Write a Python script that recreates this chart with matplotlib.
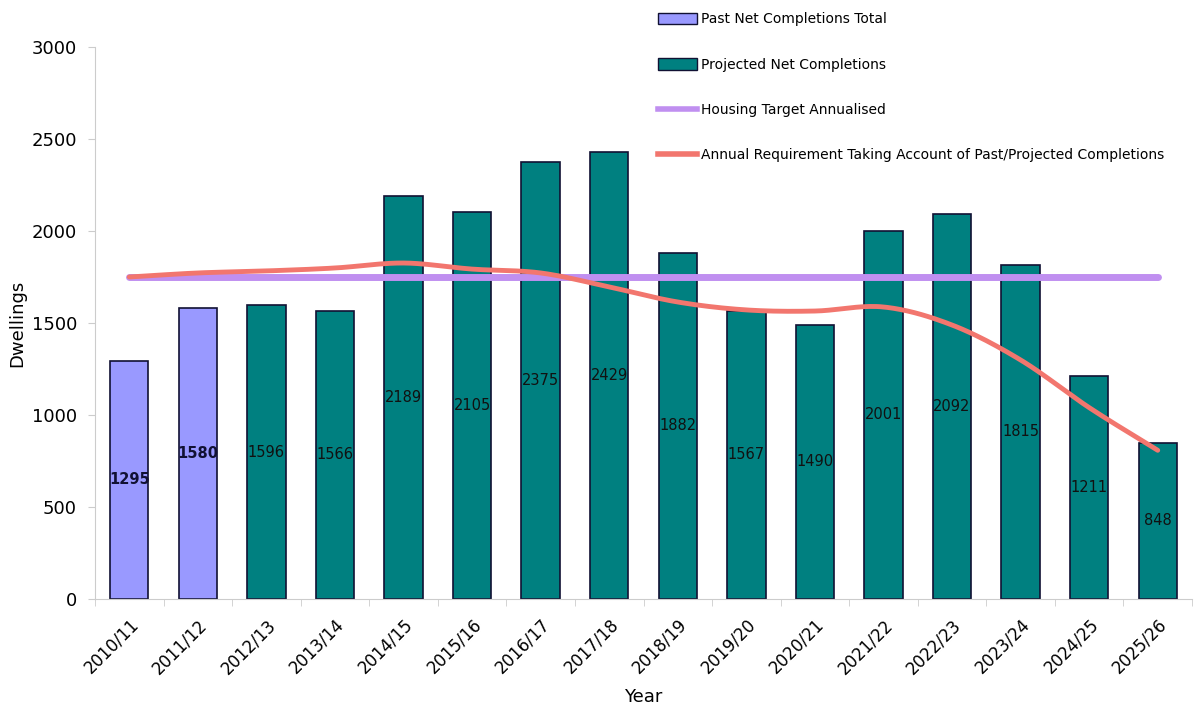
import matplotlib.pyplot as plt
import numpy as np
from matplotlib.patches import Patch
from matplotlib.lines import Line2D

years = ['2010/11', '2011/12', '2012/13', '2013/14', '2014/15', '2015/16', '2016/17', '2017/18',
         '2018/19', '2019/20', '2020/21', '2021/22', '2022/23', '2023/24', '2024/25', '2025/26']
past = [1295, 1580]
projected = [1596, 1566, 2189, 2105, 2375, 2429, 1882, 1567, 1490, 2001, 2092, 1815, 1211, 848]
target = 1750
requirement = [1750, 1772, 1783, 1799, 1826, 1793, 1772, 1696, 1614, 1571, 1565, 1587,
               1489, 1299, 1040, 808]

past_col = '#9999ff'
proj_col = '#008080'
target_col = '#c08ff0'
req_col = '#f2766e'


def smooth(x, y, n=20):
    # catmull-rom style smoothing, like excel's smoothed line
    x = np.asarray(x, float)
    y = np.asarray(y, float)
    px = np.concatenate([[2*x[0]-x[1]], x, [2*x[-1]-x[-2]]])
    py = np.concatenate([[2*y[0]-y[1]], y, [2*y[-1]-y[-2]]])
    xs, ys = [], []
    t = np.linspace(0, 1, n, endpoint=False)
    for i in range(1, len(px)-2):
        for p, out in ((px, xs), (py, ys)):
            p0, p1, p2, p3 = p[i-1], p[i], p[i+1], p[i+2]
            out.extend(0.5*((2*p1) + (-p0+p2)*t + (2*p0-5*p1+4*p2-p3)*t**2 + (-p0+3*p1-3*p2+p3)*t**3))
    xs.append(x[-1])
    ys.append(y[-1])
    return np.array(xs), np.array(ys)


fig = plt.figure(figsize=(11.95, 7.13), dpi=100)
ax = fig.add_axes([0.0795, 0.160, 0.918, 0.774])

x = np.arange(len(years))
values = past + projected
colors = [past_col]*len(past) + [proj_col]*len(projected)
bars = ax.bar(x, values, width=0.56, color=colors, edgecolor='#111133', linewidth=1.2, zorder=2)

for i, v in enumerate(values):
    ax.text(x[i], v/2, str(v), ha='center', va='center', fontsize=10.5,
            fontweight='bold' if i < len(past) else 'normal',
            color='#111133' if i < len(past) else '#111111', zorder=5)

ax.plot([x[0], x[-1]], [target, target], color=target_col, linewidth=5, zorder=3,
        solid_capstyle='round')
sx, sy = smooth(x, requirement)
ax.plot(sx, sy, color=req_col, linewidth=3.5, zorder=4, solid_capstyle='round')

ax.set_xlim(-0.5, len(years)-0.5)
ax.set_ylim(0, 3000)
ax.set_yticks(range(0, 3001, 500))
ax.tick_params(axis='y', labelsize=13, length=5, color='#cccccc', pad=8)
ax.set_xticks(x)
ax.set_xticklabels(years, rotation=45, ha='right', rotation_mode='anchor', fontsize=12)
ax.tick_params(axis='x', which='major', length=0, pad=12)
ax.set_xticks(np.arange(-0.5, len(years), 1), minor=True)
ax.tick_params(axis='x', which='minor', length=5, color='#cccccc')
for s in ['top', 'right']:
    ax.spines[s].set_visible(False)
for s in ['left', 'bottom']:
    ax.spines[s].set_color('#cccccc')

ax.set_xlabel('Year', fontsize=13, labelpad=8)
ax.set_ylabel('Dwellings', fontsize=13, labelpad=4)

handles = [Patch(facecolor=past_col, edgecolor='#111133'),
           Patch(facecolor=proj_col, edgecolor='#111133'),
           Line2D([], [], color=target_col, linewidth=4),
           Line2D([], [], color=req_col, linewidth=4)]
labels = ['Past Net Completions Total', 'Projected Net Completions',
          'Housing Target Annualised', 'Annual Requirement Taking Account of Past/Projected Completions']
fig.legend(handles, labels, loc='upper left', bbox_to_anchor=(0.540, 1.0), frameon=False,
           fontsize=10, labelspacing=2.25, handlelength=2.8, handletextpad=0.3, handleheight=0.9)

fig.savefig('out.png', dpi=100)
